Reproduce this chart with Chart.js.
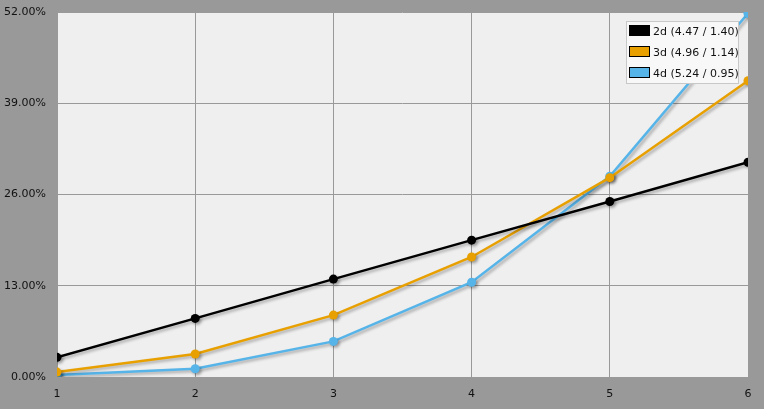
<!DOCTYPE html>
<html>
<head>
<meta charset="utf-8">
<script src="https://cdn.jsdelivr.net/npm/chart.js@4/dist/chart.umd.min.js"></script>
<style>
  html, body { margin: 0; padding: 0; background: #999999; }
  #wrap { width: 764px; height: 409px; }
</style>
</head>
<body>
<div id="wrap"><canvas id="chart"></canvas></div>
<script>
// values (percent)
const xValues = [1, 2, 3, 4, 5, 6];
const seriesLabels = ['2d (4.47 / 1.40)', '3d (4.96 / 1.14)', '4d (5.24 / 0.95)'];
const series2d = [2.8, 8.35, 13.95, 19.5, 25.0, 30.6];
const series3d = [0.7, 3.27, 8.82, 17.1, 28.4, 42.2];
const series4d = [0.3, 1.18, 5.07, 13.5, 28.6, 51.8];
const yTicks = [0, 13, 26, 39, 52];
const colors = ['#000000', '#e8a000', '#56b4e9'];

const font = { family: 'DejaVu Sans', size: 11 };

// plot area background
const plotBg = {
    id: 'plotBg',
    beforeDraw(chart) {
        const { ctx, chartArea: a } = chart;
        ctx.save();
        ctx.fillStyle = '#efefef';
        ctx.fillRect(a.left, a.top, a.right - a.left, a.bottom - a.top);
        ctx.restore();
    }
};

// soft drop shadow under the lines
const lineShadow = {
    id: 'lineShadow',
    beforeDatasetsDraw(chart) {
        const ctx = chart.ctx;
        ctx.save();
        ctx.shadowColor = 'rgba(0,0,0,0.3)';
        ctx.shadowBlur = 3;
        ctx.shadowOffsetX = 2;
        ctx.shadowOffsetY = 2;
    },
    afterDatasetsDraw(chart) {
        chart.ctx.restore();
    }
};

// boxed legend in the top right corner of the plot
const boxLegend = {
    id: 'boxLegend',
    afterDatasetsDraw(chart) {
        const { ctx, chartArea: a } = chart;
        const sets = chart.data.datasets;
        const w = 113, rowH = 21;
        const h = sets.length * rowH;
        const x = a.right - w - 9, y = a.top + 9;
        ctx.save();
        ctx.fillStyle = '#f8f8f8';
        ctx.strokeStyle = '#c8c8c8';
        ctx.lineWidth = 1;
        ctx.fillRect(x, y, w, h);
        ctx.strokeRect(x + 0.5, y + 0.5, w - 1, h - 1);
        ctx.font = '11px "DejaVu Sans"';
        ctx.textBaseline = 'middle';
        sets.forEach((ds, i) => {
            const cy = y + 10 + i * rowH;
            ctx.fillStyle = ds.borderColor;
            ctx.fillRect(x + 4, cy - 5, 19, 9);
            ctx.strokeStyle = '#000';
            ctx.strokeRect(x + 3.5, cy - 5.5, 20, 10);
            ctx.fillStyle = '#111';
            ctx.fillText(ds.label, x + 27, cy + 1);
        });
        ctx.restore();
    }
};

const makeSet = (label, data, color) => ({
    label: label,
    data: data.map((v, i) => ({ x: xValues[i], y: v })),
    borderColor: color,
    backgroundColor: color,
    borderWidth: 2.5,
    pointRadius: 4.5,
    pointHoverRadius: 4.5,
    pointBorderWidth: 0,
    tension: 0,
    clip: 0
});

new Chart(document.getElementById('chart'), {
    type: 'line',
    data: {
        datasets: [
            makeSet(seriesLabels[0], series2d, colors[0]),
            makeSet(seriesLabels[1], series3d, colors[1]),
            makeSet(seriesLabels[2], series4d, colors[2])
        ]
    },
    options: {
        responsive: true,
        maintainAspectRatio: false,
        animation: false,
        layout: { padding: { top: 12, right: 16, left: 0, bottom: 0 } },
        plugins: { legend: { display: false }, tooltip: { enabled: false } },
        scales: {
            x: {
                type: 'linear',
                min: 1,
                max: 6,
                afterBuildTicks: s => { s.ticks = xValues.map(v => ({ value: v })); },
                afterFit: s => { s.height = 32; s.paddingLeft = 0; s.paddingRight = 0; },
                grid: { color: '#999999', lineWidth: 1, drawTicks: false },
                border: { display: false },
                ticks: { font: font, color: '#111', padding: 11 }
            },
            y: {
                min: 0,
                max: 52,
                afterBuildTicks: s => { s.ticks = yTicks.map(v => ({ value: v })); },
                afterFit: s => { s.width = 57; s.paddingTop = 0; s.paddingBottom = 0; },
                grid: { color: '#999999', lineWidth: 1, drawTicks: false },
                border: { display: false },
                ticks: {
                    font: font,
                    color: '#111',
                    padding: 11,
                    callback: v => v.toFixed(2) + '%'
                }
            }
        }
    },
    plugins: [plotBg, lineShadow, boxLegend]
});
</script>
</body>
</html>
